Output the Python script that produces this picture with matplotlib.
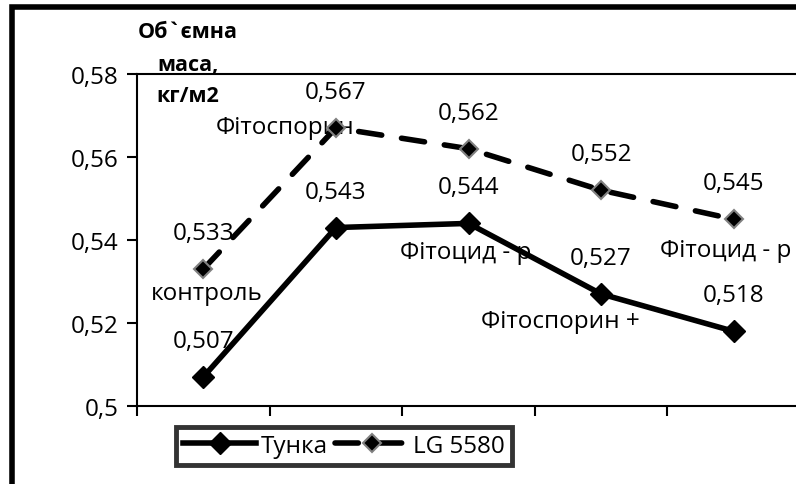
import matplotlib.pyplot as plt
from matplotlib.patches import Rectangle

plt.rcParams["font.family"] = ["Open Sans", "DejaVu Sans"]

categories = ["контроль", "Фітоспорин", "Фітоцид - р", "Фітоспорин +", "Фітоцид - р"]
tunka = [0.507, 0.543, 0.544, 0.527, 0.518]
lg5580 = [0.533, 0.567, 0.562, 0.552, 0.545]

# where Excel dropped the category names (data coords)
cat_x = [0.03, 0.62, 1.98, 2.69, 3.94]
cat_y = [0.5272, 0.5673, 0.5370, 0.5205, 0.5375]

fs = 17.5
lab_off = 36 * 0.72  # value labels sit ~35 px above the point

fig = plt.figure(figsize=(7.96, 4.85), dpi=100)
ax = fig.add_axes([137 / 796, 1 - 407 / 485, 663 / 796, 332 / 485])

x = list(range(len(categories)))
ax.plot(x, tunka, color="black", lw=4, marker="D", ms=11, zorder=3, label="Тунка")
ax.plot(x, lg5580, color="black", lw=4, ls=(0, (4.2, 3.6)), dash_capstyle="round",
        marker="D", ms=9, markerfacecolor="black", markeredgecolor="#808080",
        markeredgewidth=1.5, zorder=3, label="LG 5580")

for i in x:
    ax.annotate(f"{tunka[i]}".replace(".", ","), (i, tunka[i]), xytext=(0, lab_off),
                textcoords="offset points", ha="center", va="center", fontsize=fs, zorder=4)
    ax.annotate(f"{lg5580[i]}".replace(".", ","), (i, lg5580[i]), xytext=(0, lab_off),
                textcoords="offset points", ha="center", va="center", fontsize=fs, zorder=4)
    ax.text(cat_x[i], cat_y[i], categories[i], ha="center", va="center", fontsize=fs, zorder=2)

ax.set_xlim(-0.5, 4.5)
ax.set_ylim(0.5, 0.58)
ax.set_yticks([0.5, 0.52, 0.54, 0.56, 0.58])
ax.set_yticklabels(["0,5", "0,52", "0,54", "0,56", "0,58"], fontsize=fs)
ax.set_xticks([-0.5, 0.5, 1.5, 2.5, 3.5, 4.5])
ax.set_xticklabels([])
ax.tick_params(axis="y", direction="out", length=7, width=1.5, pad=6)
ax.tick_params(axis="x", direction="out", length=7, width=1.5)
for s in ax.spines.values():
    s.set_linewidth(1.5)
ax.spines["right"].set_visible(False)

fig.text(188 / 796, 1 - 32 / 485, "Об`ємна", ha="center", va="center", fontsize=15.5, fontweight="bold")
fig.text(188 / 796, 1 - 66 / 485, "маса,", ha="center", va="center", fontsize=15.5, fontweight="bold")
fig.text(188 / 796, 1 - 97 / 485, "кг/м2", ha="center", va="center", fontsize=15.5, fontweight="bold")

leg = ax.legend(loc="center", bbox_to_anchor=(344 / 796, 1 - 447 / 485),
                bbox_transform=fig.transFigure, ncol=2, fontsize=fs, frameon=True,
                fancybox=False, handlelength=3.0, columnspacing=0.3, handletextpad=0.2,
                borderpad=0.3, borderaxespad=0)
leg.get_frame().set_edgecolor("black")
leg.get_frame().set_linewidth(3.5)

# chart area border, runs off the right and bottom of the picture
fig.patches.append(Rectangle((12 / 796, -0.1), 1.2, 1 - 8 / 485 + 0.1, transform=fig.transFigure,
                             fill=False, edgecolor="black", lw=4, clip_on=False))

fig.savefig("out.png", dpi=100)
